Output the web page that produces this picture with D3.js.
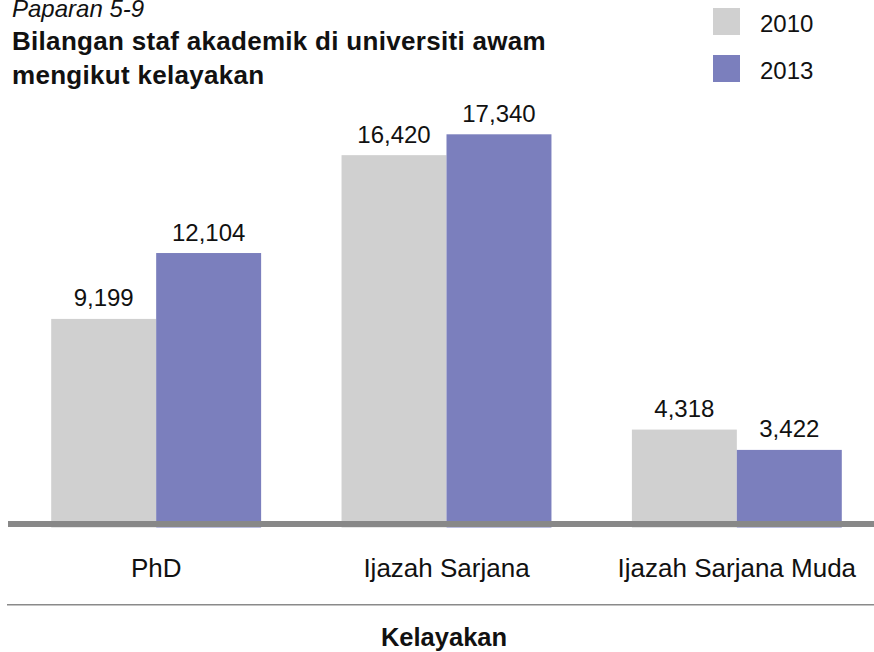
<!DOCTYPE html>
<html>
<head>
<meta charset="utf-8">
<script src="https://cdn.jsdelivr.net/npm/d3@7"></script>
<style>
  body { margin: 0; background: #fff; }
  svg { display: block; font-family: "Liberation Sans", Arial, Helvetica, sans-serif; }
</style>
</head>
<body>
<svg width="874" height="652"></svg>
<script>
// data
const categories = ["PhD", "Ijazah Sarjana", "Ijazah Sarjana Muda"];
const years = ["2010", "2013"];
const values2010 = [9199, 16420, 4318];
const values2013 = [12104, 17340, 3422];
const colors = ["#d0d0d0", "#7b7fbd"];

const svg = d3.select("svg"),
    width = +svg.attr("width"),
    height = +svg.attr("height");

const baseY = 527.5;

// scales
const x0 = d3.scaleBand()
    .domain(categories)
    .range([11, 882])
    .paddingInner(0.277)
    .paddingOuter(0.1385);

const x1 = d3.scaleBand()
    .domain(years)
    .range([0, x0.bandwidth()]);

const y = d3.scaleLinear()
    .domain([0, 17340])
    .range([baseY, 134.3]);

const color = d3.scaleOrdinal().domain(years).range(colors);

const rows = categories.map((c, i) => ({
    cat: c,
    vals: [
        { year: "2010", v: values2010[i] },
        { year: "2013", v: values2013[i] }
    ]
}));

// bars
const groups = svg.append("g")
    .selectAll("g")
    .data(rows)
    .join("g")
      .attr("transform", d => `translate(${x0(d.cat)},0)`);

groups.selectAll("rect")
    .data(d => d.vals)
    .join("rect")
      .attr("x", d => x1(d.year))
      .attr("y", d => y(d.v))
      .attr("width", x1.bandwidth())
      .attr("height", d => baseY - y(d.v))
      .attr("fill", d => color(d.year));

const fmt = d3.format(",");
groups.selectAll("text")
    .data(d => d.vals)
    .join("text")
      .attr("x", d => x1(d.year) + x1.bandwidth() / 2)
      .attr("y", d => y(d.v) - 12.5)
      .attr("text-anchor", "middle")
      .attr("font-size", 24)
      .attr("fill", "#111")
      .text(d => fmt(d.v));

// axis baseline (thick) and lower rule
svg.append("rect")
    .attr("x", 8).attr("y", 521)
    .attr("width", width - 8).attr("height", 6)
    .attr("fill", "#888");

svg.append("rect")
    .attr("x", 7).attr("y", 604)
    .attr("width", width - 7).attr("height", 1.5)
    .attr("fill", "#8a8a8a");

// category labels
svg.append("g")
    .selectAll("text")
    .data(categories)
    .join("text")
      .attr("x", d => x0(d) + x0.bandwidth() / 2)
      .attr("y", 577)
      .attr("text-anchor", "middle")
      .attr("font-size", 26)
      .attr("fill", "#111")
      .text(d => d);

svg.append("text")
    .attr("x", 444).attr("y", 646)
    .attr("text-anchor", "middle")
    .attr("font-size", 25.5)
    .attr("font-weight", "bold")
    .attr("fill", "#111")
    .text("Kelayakan");

// titles
svg.append("text")
    .attr("x", 12).attr("y", 17)
    .attr("font-size", 24)
    .attr("font-style", "italic")
    .attr("fill", "#111")
    .text("Paparan 5-9");

const title = svg.append("text")
    .attr("font-size", 26)
    .attr("font-weight", "bold")
    .attr("letter-spacing", 0.3)
    .attr("fill", "#111");
title.append("tspan").attr("x", 12).attr("y", 50).text("Bilangan staf akademik di universiti awam");
title.append("tspan").attr("x", 12).attr("y", 84).text("mengikut kelayakan");

// legend
const legend = svg.append("g")
    .selectAll("g")
    .data(years)
    .join("g")
      .attr("transform", (d, i) => `translate(713,${8 + i * 47})`);

legend.append("rect")
    .attr("width", 27).attr("height", 27)
    .attr("fill", d => color(d));

legend.append("text")
    .attr("x", 47).attr("y", 24)
    .attr("font-size", 24)
    .attr("fill", "#111")
    .text(d => d);
</script>
</body>
</html>
